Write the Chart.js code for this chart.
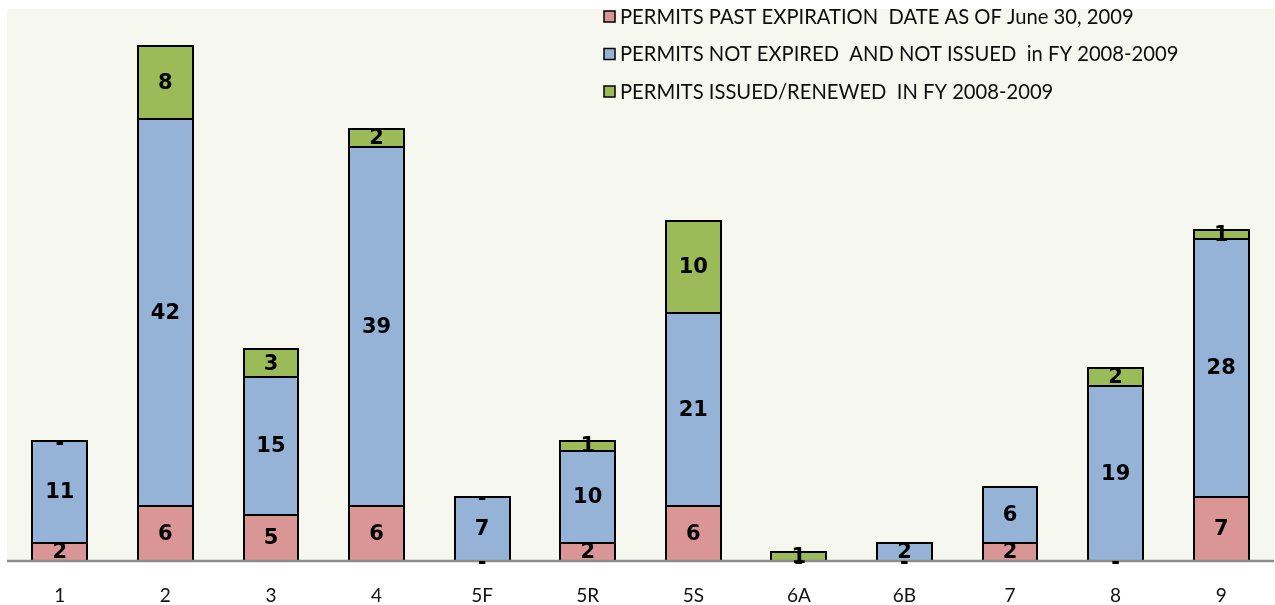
<!DOCTYPE html>
<html>
<head>
<meta charset="utf-8">
<script src="https://cdn.jsdelivr.net/npm/chart.js@4/dist/chart.umd.min.js"></script>
<style>
  html, body { margin: 0; padding: 0; background: #ffffff; }
  #wrap { width: 1275px; height: 605px; position: relative; }
</style>
</head>
<body>
<div id="wrap"><canvas id="permitChart"></canvas></div>
<script>
// Kategori wilayah
const districts = ["1", "2", "3", "4", "5F", "5R", "5S", "6A", "6B", "7", "8", "9"];

// Nilai per seri (null = tidak ada label)
const pastExpiration = [2, 6, 5, 6, 0, 2, 6, 0, 0, 2, 0, 7];
const notExpiredNotIssued = [11, 42, 15, 39, 7, 10, 21, 0, 2, 6, 19, 28];
const issuedRenewed = [0, 8, 3, 2, 0, 1, 10, 1, null, null, 2, 1];

const seriesLabels = [
  "PERMITS PAST EXPIRATION  DATE AS OF June 30, 2009",
  "PERMITS NOT EXPIRED  AND NOT ISSUED  in FY 2008-2009",
  "PERMITS ISSUED/RENEWED  IN FY 2008-2009"
];
const seriesColors = ["#d99694", "#95b3d7", "#9bbb59"];

// Latar belakang area plot
const plotBackground = {
  id: "plotBackground",
  beforeDraw(chart) {
    const { ctx, chartArea: a } = chart;
    ctx.save();
    ctx.fillStyle = "#f6f8f0";
    ctx.fillRect(a.left, a.top, a.right - a.left, a.bottom - a.top);
    ctx.restore();
  }
};

// Garis tepi segmen, garis dasar, dan label angka
const segmentLabels = {
  id: "segmentLabels",
  afterDatasetsDraw(chart) {
    const { ctx, chartArea: a } = chart;
    const y0 = chart.scales.y.getPixelForValue(0);
    ctx.save();

    // garis tepi hitam tiap segmen
    ctx.strokeStyle = "#000";
    ctx.lineWidth = 2;
    chart.data.datasets.forEach((ds, i) => {
      chart.getDatasetMeta(i).data.forEach((bar, j) => {
        const v = ds.data[j];
        if (!v) return;
        const p = bar.getProps(["x", "y", "base", "width"], true);
        const left = Math.round(p.x - p.width / 2);
        const right = Math.round(p.x + p.width / 2);
        const top = Math.round(p.y);
        const bottom = Math.round(p.base);
        ctx.strokeRect(left, top, right - left, bottom - top);
      });
    });

    ctx.strokeStyle = "#8c8c8c";
    ctx.lineWidth = 2.5;
    ctx.beginPath();
    ctx.moveTo(a.left, y0);
    ctx.lineTo(a.right, y0);
    ctx.stroke();

    ctx.font = "bold 21px 'DejaVu Sans'";
    ctx.fillStyle = "#000";
    ctx.textAlign = "center";
    ctx.textBaseline = "middle";
    chart.data.datasets.forEach((ds, i) => {
      const meta = chart.getDatasetMeta(i);
      meta.data.forEach((bar, j) => {
        const v = ds.data[j];
        if (v === null || v === undefined) return;
        const p = bar.getProps(["x", "y", "base"], true);
        if (v === 0) {
          ctx.fillText("-", p.x, p.y + 3);
        } else {
          ctx.fillText(String(v), p.x, (p.y + p.base) / 2 + 1);
        }
      });
    });
    ctx.restore();
  }
};

// Legenda vertikal di kanan atas
const cornerLegend = {
  id: "cornerLegend",
  afterDraw(chart) {
    const { ctx } = chart;
    ctx.save();
    ctx.font = "20.2px Lato";
    ctx.textBaseline = "middle";
    ctx.textAlign = "left";
    chart.data.datasets.forEach((ds, i) => {
      const cy = 16 + i * 37.5;
      ctx.fillStyle = ds.backgroundColor;
      ctx.fillRect(604, cy - 5, 11, 11);
      ctx.strokeStyle = "#000";
      ctx.lineWidth = 1.5;
      ctx.strokeRect(604, cy - 5, 11, 11);
      ctx.fillStyle = "#0d0d0d";
      ctx.fillText(ds.label, 620, cy + 1);
    });
    ctx.restore();
  }
};

function makeDataset(label, data, color) {
  return {
    label: label,
    data: data,
    backgroundColor: color,
    borderWidth: 0,
    categoryPercentage: 1.0,
    barPercentage: 0.52
  };
}

const ctx = document.getElementById("permitChart").getContext("2d");
new Chart(ctx, {
  type: "bar",
  data: {
    labels: districts,
    datasets: [
      makeDataset(seriesLabels[0], pastExpiration, seriesColors[0]),
      makeDataset(seriesLabels[1], notExpiredNotIssued, seriesColors[1]),
      makeDataset(seriesLabels[2], issuedRenewed, seriesColors[2])
    ]
  },
  options: {
    responsive: true,
    maintainAspectRatio: false,
    animation: false,
    layout: { padding: { left: 7, right: 1, top: 9, bottom: 0 } },
    plugins: {
      legend: { display: false },
      tooltip: { enabled: false }
    },
    scales: {
      x: {
        stacked: true,
        grid: { display: false, drawTicks: false },
        border: { display: false },
        afterFit(scale) { scale.height = 44; },
        ticks: {
          color: "#111",
          font: { family: "Lato", size: 19 },
          padding: 23,
          maxRotation: 0
        }
      },
      y: {
        stacked: true,
        display: false,
        min: 0,
        max: 60
      }
    }
  },
  plugins: [plotBackground, segmentLabels, cornerLegend]
});
</script>
</body>
</html>
